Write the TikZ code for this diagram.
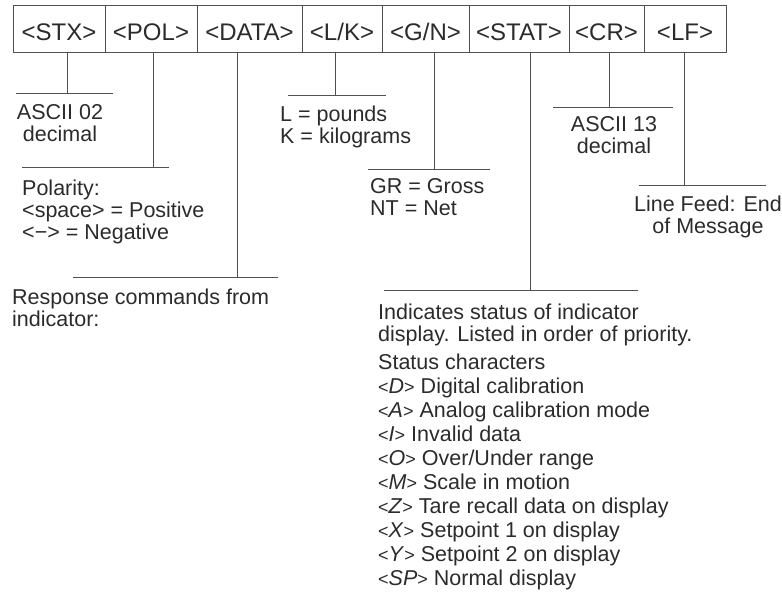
\documentclass[tikz,border=0pt]{standalone}
\usepackage{fontspec}
\setmainfont{Liberation Sans}
\definecolor{ink}{HTML}{2B2B2B}
\definecolor{rule}{HTML}{505050}
\newcommand{\myLt}{{\fontsize{18}{18}\selectfont<}}
\newcommand{\myGt}{{\fontsize{18}{18}\selectfont>}}
\newcommand{\stch}[1]{\myLt\textit{#1}\myGt}
\begin{document}
\begin{tikzpicture}[x=1pt,y=-1pt,
  fieldbox/.style={draw=rule,line width=0.9pt,minimum height=47pt,inner sep=0pt,
    text height=23pt,text depth=0pt,text=ink,font=\fontsize{24}{24}\selectfont},
  leader/.style={draw=rule,line width=0.9pt},
  note/.style={inner sep=0pt,text=ink,font=\fontsize{21.5}{22}\selectfont},
  listtxt/.style={inner sep=0pt,text=ink,font=\fontsize{21.5}{24}\selectfont}]
\useasboundingbox (0,0) rectangle (782,600);
% field boxes
\node[fieldbox,minimum width=92pt]  (stx)  at (59,28.5)    {<STX>};
\node[fieldbox,minimum width=92pt]  (pol)  at (151,28.5)   {<POL>};
\node[fieldbox,minimum width=105pt] (data) at (249.5,28.5) {<DATA>};
\node[fieldbox,minimum width=80pt]  (lk)   at (342,28.5)   {<L/K>};
\node[fieldbox,minimum width=87pt]  (gn)   at (425.5,28.5) {<G/N>};
\node[fieldbox,minimum width=100pt] (stat) at (519,28.5)   {<STAT>};
\node[fieldbox,minimum width=75pt]  (cr)   at (606.5,28.5) {<CR>};
\node[fieldbox,minimum width=82pt]  (lf)   at (685,28.5)   {<LF>};
% rule coordinates
\coordinate (a1) at (16,93);  \coordinate (b1) at (113,93); \coordinate (t1) at (67,93);
\coordinate (a2) at (22,167); \coordinate (b2) at (169,167); \coordinate (t2) at (153,167);
\coordinate (a3) at (73,277); \coordinate (b3) at (278,277); \coordinate (t3) at (237,277);
\coordinate (a4) at (288,95); \coordinate (b4) at (386,95); \coordinate (t4) at (335,95);
\coordinate (a5) at (368,169); \coordinate (b5) at (490,169); \coordinate (t5) at (434,169);
\coordinate (a6) at (384,290); \coordinate (b6) at (638,290); \coordinate (t6) at (530,290);
\coordinate (a7) at (553,107); \coordinate (b7) at (673,107); \coordinate (t7) at (609,107);
\coordinate (a8) at (639,185); \coordinate (b8) at (766,185); \coordinate (t8) at (684,185);
% leaders
\draw[leader] (stx.south -| t1) -- (t1);  \draw[leader] (a1) -- (b1);
\draw[leader] (pol.south -| t2) -- (t2);  \draw[leader] (a2) -- (b2);
\draw[leader] (data.south -| t3) -- (t3); \draw[leader] (a3) -- (b3);
\draw[leader] (lk.south -| t4) -- (t4);   \draw[leader] (a4) -- (b4);
\draw[leader] (gn.south -| t5) -- (t5);   \draw[leader] (a5) -- (b5);
\draw[leader] (stat.south -| t6) -- (t6); \draw[leader] (a6) -- (b6);
\draw[leader] (cr.south -| t7) -- (t7);   \draw[leader] (a7) -- (b7);
\draw[leader] (lf.south -| t8) -- (t8);   \draw[leader] (a8) -- (b8);
% notes
\node[note,anchor=north,align=center] (n1) at (60,104) {ASCII 02\\decimal};
\node[note,anchor=north west,align=left] (n2) at (22,180) {Polarity:\\<space> = Positive\\<−> = Negative};
\node[note,anchor=north west,align=left] (n3) at (12,289) {Response commands from\\indicator:};
\node[note,anchor=north west,align=left] (n4) at (280,106) {L = pounds\\K = kilograms};
\node[note,anchor=north west,align=left] (n5) at (370,178) {GR = Gross\\NT = Net};
\node[note,anchor=north,align=center] (n7) at (614,116) {ASCII 13\\decimal};
\node[note,anchor=north,align=center] (n8) at (708,196) {Line Feed: End\\of Message};
\node[note,anchor=north west,align=left] (n6) at (378,304) {Indicates status of indicator\\display. Listed in order of priority.};
\node[listtxt,anchor=north west,align=left] (n6b) at (378,354) {Status characters\\
\stch{D} Digital calibration\\
\stch{A} Analog calibration mode\\
\stch{I} Invalid data\\
\stch{O} Over/Under range\\
\stch{M} Scale in motion\\
\stch{Z} Tare recall data on display\\
\stch{X} Setpoint 1 on display\\
\stch{Y} Setpoint 2 on display\\
\stch{SP} Normal display};
\end{tikzpicture}
\end{document}
